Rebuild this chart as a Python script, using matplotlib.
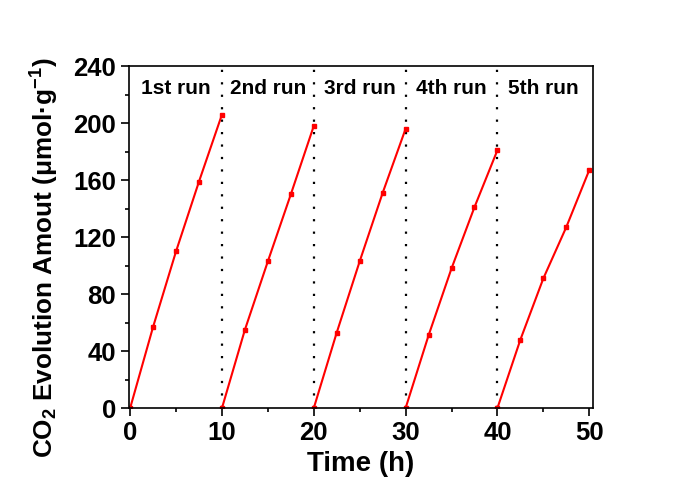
import matplotlib
matplotlib.use("Agg")
import matplotlib.pyplot as plt
from matplotlib.ticker import MultipleLocator

# --- Fonts ---
plt.rcParams["font.family"] = ["Liberation Sans", "DejaVu Sans"]
plt.rcParams["font.weight"] = "bold"
plt.rcParams["mathtext.fontset"] = "custom"
plt.rcParams["mathtext.rm"] = "Liberation Sans:bold"
plt.rcParams["mathtext.bf"] = "Liberation Sans:bold"
plt.rcParams["mathtext.default"] = "bf"

# --- Data ---
run_labels = ["1st run", "2nd run", "3rd run", "4th run", "5th run"]
run_starts = [0, 10, 20, 30, 40]
time_in_run = [0, 2.5, 5, 7.5, 10]
run1 = [0, 57, 110, 159, 206]
run2 = [0, 55, 103, 150, 198]
run3 = [0, 53, 103, 151, 196]
run4 = [0, 51, 98, 141, 181]
run5 = [0, 48, 91, 127, 167]
runs = [run1, run2, run3, run4, run5]
dividers = [10, 20, 30, 40]

fig = plt.figure(figsize=(6.73, 4.79), dpi=100)
ax = fig.add_axes([0.192, 0.148, 0.689, 0.714])

for start, vals in zip(run_starts, runs):
    t = [start + x for x in time_in_run]
    ax.plot(t, vals, color="#ff0000", lw=1.5, marker="s", ms=3.5)

for d in dividers:
    ax.axvline(d, color="black", ls=(0, (1, 4.6)), lw=1.6, zorder=0)

for start, lab in zip(run_starts, run_labels):
    ax.text(start + 5, 224, lab, ha="center", va="center", fontsize=15, fontweight="bold")

ax.set_xlim(-0.1, 50.4)
ax.set_ylim(0, 240)
ax.xaxis.set_major_locator(MultipleLocator(10))
ax.xaxis.set_minor_locator(MultipleLocator(5))
ax.yaxis.set_major_locator(MultipleLocator(40))
ax.yaxis.set_minor_locator(MultipleLocator(20))

ax.tick_params(which="major", length=6, width=1.2, labelsize=18.5, direction="out")
ax.tick_params(which="minor", length=3, width=1.2, direction="out")
for sp in ax.spines.values():
    sp.set_linewidth(1.2)

ax.set_xlabel("Time (h)", fontsize=20, fontweight="bold", labelpad=4)
ax.set_ylabel(r"CO$_2$ Evolution Amout (μmol·g$^{-1}$)", fontsize=18.8, fontweight="bold")
ax.yaxis.set_label_coords(-0.147, 0.44)

fig.savefig("out.png", dpi=100)
